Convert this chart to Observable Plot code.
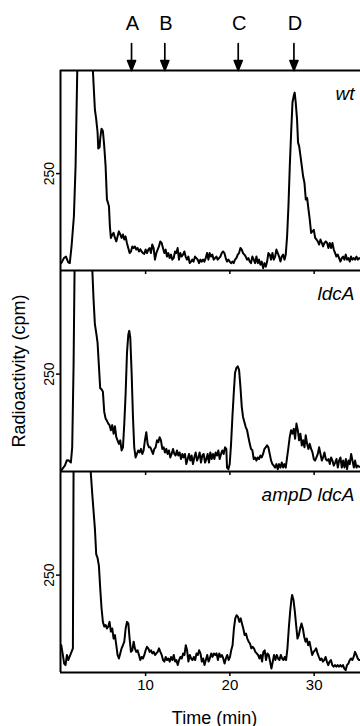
<!DOCTYPE html>
<html><head><meta charset="utf-8">
<script src="https://cdn.jsdelivr.net/npm/d3@7"></script>
<script src="https://cdn.jsdelivr.net/npm/@observablehq/plot@0.6"></script>
<style>
body{margin:0;background:#fff;}
#chart{width:360px;height:726px;font-family:"Liberation Sans",Arial,sans-serif;}
#chart svg{display:block;overflow:visible;}
</style></head><body><div id="chart"></div>
<script>
// [time (min), radioactivity (cpm)]
const wt = [[0,19],[0.3,32],[0.55,36],[0.82,21],[1.0,19],[1.21,62],[1.49,140],[1.69,270],[1.9,530],[2.8,1800],[3.74,517],[3.98,416],[4.14,390],[4.3,356],[4.38,315],[4.54,318],[4.61,340],[4.77,366],[4.93,360],[5.09,321],[5.25,270],[5.41,183],[5.53,175],[5.65,166],[5.76,114],[5.88,84],[6.04,92],[6.2,97],[6.36,84],[6.52,75],[6.67,88],[6.83,101],[6.99,93],[7.15,84],[7.31,93],[7.47,80],[7.62,88],[7.78,71],[7.94,58],[8.1,45],[8.26,49],[8.42,62],[8.58,58],[8.73,62],[8.89,54],[9.05,58],[9.21,49],[9.37,55],[9.52,49],[9.68,45],[9.84,43],[10.0,54],[10.16,45],[10.32,54],[10.47,58],[10.63,45],[10.79,67],[10.95,58],[11.11,28],[11.27,45],[11.43,54],[11.58,62],[11.74,75],[11.9,71],[12.06,58],[12.22,45],[12.38,54],[12.53,36],[12.69,45],[12.85,32],[13.01,41],[13.17,28],[13.33,32],[13.49,49],[13.64,45],[13.8,58],[13.96,28],[14.12,45],[14.28,36],[14.44,41],[14.6,49],[14.75,36],[14.91,28],[15.07,36],[15.23,19],[15.39,23],[15.54,28],[15.7,23],[15.86,36],[16.02,32],[16.18,28],[16.34,19],[16.5,28],[16.65,23],[16.81,28],[16.97,23],[17.13,32],[17.29,45],[17.45,28],[17.6,45],[17.76,36],[17.92,41],[18.08,28],[18.24,32],[18.4,36],[18.55,28],[18.71,32],[18.87,36],[19.03,45],[19.19,49],[19.35,45],[19.51,32],[19.66,23],[19.82,28],[19.98,23],[20.14,19],[20.3,23],[20.45,19],[20.61,28],[20.77,32],[20.93,41],[21.09,45],[21.25,58],[21.41,54],[21.56,45],[21.72,41],[21.88,36],[22.04,28],[22.2,32],[22.36,23],[22.51,19],[22.67,36],[22.83,28],[22.99,19],[23.15,36],[23.31,19],[23.46,28],[23.62,15],[23.78,23],[23.94,6],[24.1,19],[24.26,10],[24.42,23],[24.57,45],[24.73,41],[24.89,28],[25.05,45],[25.21,28],[25.37,36],[25.52,54],[25.68,45],[25.84,36],[26.0,23],[26.16,36],[26.32,41],[26.48,28],[26.63,41],[26.79,88],[26.95,166],[27.11,270],[27.27,356],[27.43,434],[27.58,451],[27.69,459],[27.81,434],[27.97,390],[28.09,330],[28.22,321],[28.38,295],[28.53,270],[28.69,243],[28.85,226],[29.01,183],[29.17,187],[29.33,157],[29.48,131],[29.64,97],[29.8,101],[29.96,105],[30.12,84],[30.28,80],[30.43,75],[30.59,67],[30.75,80],[30.91,71],[31.06,62],[31.22,71],[31.38,75],[31.54,71],[31.69,58],[31.85,71],[32.01,58],[32.17,71],[32.33,54],[32.49,45],[32.64,36],[32.8,41],[32.96,32],[33.12,23],[33.28,32],[33.43,36],[33.59,28],[33.75,41],[33.91,28],[34.07,32],[34.23,23],[34.38,36],[34.54,28],[34.7,32],[34.86,28],[35.02,36],[35.18,28],[35.34,32],[35.53,30]];

const ldcA = [[0,2],[0.1,6],[0.42,15],[0.66,29],[0.9,28],[1.13,23],[1.29,62],[1.45,270],[1.57,520],[2.6,1800],[3.67,520],[3.82,443],[3.98,378],[4.14,356],[4.3,330],[4.46,270],[4.61,214],[4.77,211],[4.93,205],[5.09,153],[5.25,136],[5.41,130],[5.57,123],[5.72,119],[5.88,106],[6.04,119],[6.2,97],[6.36,116],[6.52,88],[6.67,80],[6.83,71],[6.99,80],[7.15,54],[7.31,62],[7.47,123],[7.63,201],[7.79,305],[7.95,352],[8.06,361],[8.18,344],[8.34,253],[8.5,140],[8.65,62],[8.81,36],[8.97,45],[9.13,54],[9.29,49],[9.45,58],[9.61,45],[9.76,54],[9.92,80],[10.08,101],[10.24,71],[10.4,62],[10.56,62],[10.71,54],[10.87,45],[11.03,58],[11.19,62],[11.35,80],[11.51,75],[11.66,88],[11.82,80],[11.98,58],[12.14,62],[12.3,49],[12.46,58],[12.61,45],[12.77,54],[12.93,36],[13.09,45],[13.25,58],[13.41,45],[13.56,41],[13.72,54],[13.88,41],[14.04,49],[14.2,32],[14.36,45],[14.51,36],[14.67,45],[14.83,19],[14.99,32],[15.15,45],[15.31,28],[15.46,41],[15.62,19],[15.78,36],[15.94,49],[16.1,28],[16.26,36],[16.41,49],[16.57,23],[16.73,41],[16.89,45],[17.05,23],[17.21,32],[17.36,45],[17.52,23],[17.68,49],[17.84,32],[18.0,45],[18.16,32],[18.31,49],[18.47,41],[18.63,54],[18.79,32],[18.95,45],[19.11,54],[19.26,45],[19.42,62],[19.58,58],[19.66,10],[19.82,6],[19.98,19],[20.14,71],[20.3,140],[20.46,201],[20.61,253],[20.77,266],[20.93,270],[21.09,261],[21.25,218],[21.41,166],[21.56,140],[21.72,127],[21.88,114],[22.04,106],[22.2,88],[22.36,71],[22.51,58],[22.67,54],[22.83,32],[22.99,36],[23.15,28],[23.3,36],[23.46,32],[23.62,41],[23.78,36],[23.94,45],[24.1,58],[24.25,62],[24.41,67],[24.57,62],[24.73,45],[24.89,28],[25.05,19],[25.2,15],[25.36,10],[25.52,19],[25.68,6],[25.84,19],[26.0,10],[26.16,23],[26.31,10],[26.47,19],[26.63,10],[26.79,36],[26.95,62],[27.1,88],[27.26,106],[27.42,97],[27.58,110],[27.74,84],[27.9,123],[28.06,106],[28.21,80],[28.37,97],[28.53,67],[28.69,80],[28.85,62],[29.0,93],[29.16,71],[29.32,58],[29.48,71],[29.64,58],[29.8,49],[29.96,32],[30.11,28],[30.27,36],[30.43,45],[30.59,62],[30.75,45],[30.91,28],[31.06,36],[31.22,49],[31.38,32],[31.54,28],[31.7,32],[31.86,19],[32.01,36],[32.17,28],[32.33,15],[32.49,23],[32.65,32],[32.81,10],[32.96,28],[33.12,36],[33.28,10],[33.44,28],[33.6,10],[33.76,32],[33.91,6],[34.07,28],[34.23,19],[34.39,45],[34.55,28],[34.71,10],[34.86,28],[35.02,10],[35.18,15],[35.34,12],[35.53,12]];

const ampDldcA = [[0,70],[0.02,66],[0.18,45],[0.34,23],[0.5,19],[0.66,45],[0.82,32],[0.97,40],[1.21,53],[1.37,62],[1.45,520],[2.4,1800],[3.47,520],[3.67,458],[3.82,415],[3.98,370],[4.14,303],[4.3,294],[4.46,273],[4.61,217],[4.77,165],[4.93,130],[5.09,118],[5.25,122],[5.41,113],[5.57,118],[5.72,130],[5.88,105],[6.04,113],[6.2,87],[6.36,96],[6.52,70],[6.67,45],[6.83,36],[6.99,49],[7.15,62],[7.31,70],[7.47,79],[7.63,113],[7.79,130],[7.95,126],[8.1,87],[8.26,53],[8.42,57],[8.58,79],[8.73,62],[8.89,53],[9.05,57],[9.21,45],[9.37,32],[9.53,40],[9.69,36],[9.85,45],[10.0,57],[10.16,66],[10.32,62],[10.48,53],[10.64,57],[10.8,49],[10.96,53],[11.11,45],[11.27,49],[11.43,53],[11.59,62],[11.75,53],[11.91,45],[12.07,32],[12.23,28],[12.38,40],[12.54,32],[12.7,36],[12.86,28],[13.02,40],[13.18,32],[13.34,45],[13.5,28],[13.65,32],[13.81,19],[13.97,32],[14.13,40],[14.29,36],[14.45,49],[14.61,45],[14.77,70],[14.92,57],[15.08,28],[15.24,45],[15.4,36],[15.56,32],[15.72,40],[15.88,32],[16.04,49],[16.2,45],[16.35,57],[16.51,49],[16.67,28],[16.83,36],[16.99,19],[17.15,32],[17.31,45],[17.47,28],[17.62,36],[17.78,49],[17.94,40],[18.1,49],[18.26,45],[18.42,49],[18.58,32],[18.74,49],[18.89,40],[19.05,45],[19.21,36],[19.37,23],[19.53,36],[19.69,45],[19.85,32],[20.01,40],[20.16,57],[20.32,70],[20.48,113],[20.64,139],[20.8,147],[20.96,143],[21.12,130],[21.28,139],[21.43,126],[21.59,113],[21.75,96],[21.91,100],[22.07,87],[22.23,79],[22.39,74],[22.55,62],[22.7,66],[22.86,62],[23.02,53],[23.18,49],[23.34,45],[23.5,36],[23.66,45],[23.82,28],[23.97,53],[24.13,57],[24.29,32],[24.45,49],[24.61,45],[24.77,28],[24.93,10],[25.09,28],[25.24,45],[25.4,32],[25.56,45],[25.72,36],[25.88,32],[26.04,45],[26.2,36],[26.36,32],[26.51,40],[26.67,32],[26.83,62],[26.99,113],[27.15,156],[27.31,190],[27.39,199],[27.55,186],[27.71,156],[27.86,122],[28.02,87],[28.18,96],[28.34,113],[28.5,126],[28.66,113],[28.82,92],[28.98,79],[29.13,87],[29.29,70],[29.45,79],[29.61,62],[29.77,45],[29.93,53],[30.09,57],[30.24,62],[30.4,49],[30.56,40],[30.72,32],[30.88,36],[31.04,28],[31.2,32],[31.36,40],[31.51,28],[31.67,19],[31.83,28],[31.99,32],[32.15,19],[32.31,15],[32.47,19],[32.63,15],[32.78,19],[32.94,15],[33.1,19],[33.26,15],[33.42,19],[33.58,10],[33.74,6],[33.9,19],[34.06,23],[34.22,32],[34.38,36],[34.53,32],[34.69,40],[34.85,53],[35.01,45],[35.17,36],[35.33,32],[35.53,32]];

const panelLabels = ["wt", "ldcA", "ampD ldcA"];
const peakLetters = ["A", "B", "C", "D"];
const peakTimes = [8.33, 12.28, 20.99, 27.6];
const xTicks = [10, 20, 30];
const yTicks = [250];
const xTitle = "Time (min)";
const yTitle = "Radioactivity (cpm)";
const xDomain = [-0.1, 35.5];
const yDomain = [0, 516];

const series = [wt, ldcA, ampDldcA];
const font = "'Liberation Sans', Arial, Helvetica, sans-serif";

const arrowShape = {
  draw(context, l) {
    context.moveTo(0, 0);
    context.lineTo(0, -l + 8);
    context.moveTo(-4, -l + 10);
    context.lineTo(0, -l);
    context.lineTo(4, -l + 10);
    context.closePath();
  }
};

const chart = document.getElementById("chart");

series.forEach((data, i) => {
  const first = i === 0, last = i === series.length - 1;
  const marginTop = first ? 70 : 0;
  const marginBottom = last ? 54 : 0;
  const inner = first ? 200 : 201;
  const marks = [
    Plot.line(data, {x: d => d[0], y: d => d[1], stroke: "black", strokeWidth: 2, clip: true, strokeLinejoin: "round"}),
    Plot.ruleX([xDomain[0]], {stroke: "black", strokeWidth: 2}),
    Plot.ruleY([yDomain[0]], {stroke: "black", strokeWidth: 2}),
    Plot.axisX(xTicks, {tickSize: 4, strokeWidth: 1.5, fontSize: 15, tickPadding: 3,
      tickFormat: last ? (d => String(d)) : (() => ""), label: null}),
    Plot.axisY(yTicks, {tickSize: 4, strokeWidth: 1.5, tickRotate: -90, fontSize: 14, tickPadding: 3, label: null}),
    Plot.text([panelLabels[i]], {frameAnchor: "top-right", dx: -6, dy: 29, lineAnchor: "bottom",
      fontStyle: "italic", fontSize: 19})
  ];
  if (first) {
    marks.push(
      Plot.ruleY([yDomain[1]], {stroke: "black", strokeWidth: 2}),
      Plot.vector(peakTimes, {x: d => d, frameAnchor: "top", anchor: "end", rotate: 180, length: 27,
        shape: arrowShape, stroke: "black", fill: "black", strokeWidth: 1.7}),
      Plot.text(peakLetters, {x: (d, j) => peakTimes[j], text: d => d, frameAnchor: "top", dx: 1, dy: -41,
        lineAnchor: "bottom", fontSize: 20})
    );
  }
  if (i === 1) {
    marks.push(Plot.text([yTitle], {frameAnchor: "left", textAnchor: "middle", rotate: -90, dx: -48,
      lineAnchor: "top", fontSize: 18}));
  }
  if (last) {
    marks.push(Plot.text([xTitle], {frameAnchor: "bottom", dx: 4, dy: 51, lineAnchor: "bottom", fontSize: 18}));
  }
  const svg = Plot.plot({
    width: 360,
    height: marginTop + inner + marginBottom,
    marginLeft: 60, marginRight: 0, marginTop, marginBottom,
    x: {domain: xDomain},
    y: {domain: yDomain},
    style: {fontFamily: font, fontSize: "14px", background: "transparent", overflow: "visible", color: "black"},
    marks
  });
  chart.appendChild(svg);
});
</script>
</body></html>
